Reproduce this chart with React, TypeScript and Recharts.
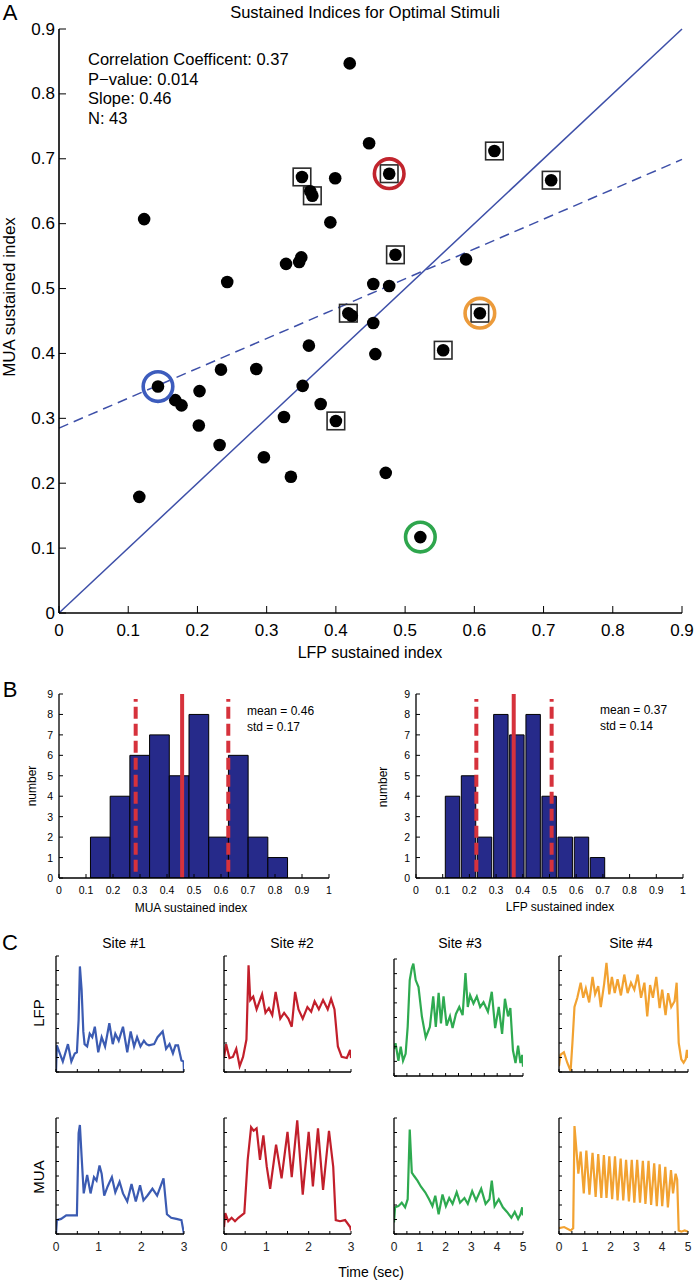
import React from "react";
import {
  ScatterChart,
  Scatter,
  XAxis,
  YAxis,
  ReferenceLine,
  BarChart,
  Bar,
  LineChart,
  Line,
} from "recharts";

const FONT = '"Liberation Sans", Arial, Helvetica, sans-serif';

// ---------- panel A: sustained index per site (LFP vs MUA)
const lfpIdx = [
  0.116, 0.123, 0.42, 0.351, 0.363, 0.366, 0.399, 0.392, 0.328, 0.347, 0.35,
  0.243, 0.448, 0.477, 0.629, 0.711, 0.486, 0.588, 0.454, 0.477, 0.418, 0.423,
  0.608, 0.454, 0.457, 0.555, 0.472, 0.522, 0.143, 0.168, 0.177, 0.203, 0.202,
  0.234, 0.232, 0.285, 0.296, 0.325, 0.335, 0.352, 0.361, 0.378, 0.4,
];
const muaIdx = [
  0.179, 0.607, 0.847, 0.672, 0.65, 0.643, 0.67, 0.602, 0.538, 0.541, 0.548,
  0.51, 0.724, 0.677, 0.712, 0.667, 0.552, 0.545, 0.507, 0.504, 0.462, 0.458,
  0.462, 0.447, 0.399, 0.405, 0.216, 0.117, 0.349, 0.328, 0.32, 0.342, 0.289,
  0.375, 0.259, 0.376, 0.24, 0.302, 0.21, 0.35, 0.412, 0.322, 0.296,
];
const boxedLfp = [0.351, 0.366, 0.477, 0.629, 0.711, 0.486, 0.418, 0.608, 0.555, 0.4];
const boxedMua = [0.672, 0.643, 0.677, 0.712, 0.667, 0.552, 0.462, 0.462, 0.405, 0.296];
const exampleLfp = [0.143, 0.477, 0.522, 0.608];
const exampleMua = [0.349, 0.677, 0.117, 0.462];
const exampleColors = ["#3d5cbd", "#c1242d", "#2ea64d", "#ec9b3b"];
const diagLine = [{ x: 0, y: 0 }, { x: 0.9, y: 0.9 }];
const fitLine = [{ x: 0, y: 0.285 }, { x: 0.9, y: 0.699 }];
const scatterTicks = [0, 0.1, 0.2, 0.3, 0.4, 0.5, 0.6, 0.7, 0.8, 0.9];
const statLines = [
  "Correlation Coefficent: 0.37",
  "P\u2212value: 0.014",
  "Slope: 0.46",
  "N: 43",
];

// ---------- panel B: histograms
const muaBinCenters = [0.153, 0.226, 0.299, 0.372, 0.445, 0.518, 0.591, 0.664, 0.737, 0.81];
const muaCounts = [2, 4, 6, 7, 5, 8, 2, 6, 2, 1];
const lfpBinCenters = [0.136, 0.196, 0.256, 0.317, 0.377, 0.438, 0.498, 0.558, 0.619, 0.679];
const lfpCounts = [4, 5, 2, 8, 7, 8, 4, 2, 2, 1];
const muaStats = { mean: 0.456, lo: 0.284, hi: 0.627 };
const lfpStats = { mean: 0.366, lo: 0.226, hi: 0.508 };
const histXTicks = [0, 0.1, 0.2, 0.3, 0.4, 0.5, 0.6, 0.7, 0.8, 0.9, 1];
const histYTicks = [0, 1, 2, 3, 4, 5, 6, 7, 8, 9];

// ---------- panel C: example responses, [time (s), normalised amplitude]
const site1Lfp = [
  [0, 0], [0.02, 0.23], [0.08, 0.17], [0.16, 0.09], [0.28, 0.24], [0.36, 0.09],
  [0.44, 0.16], [0.49, 0.17], [0.53, 0.45], [0.56, 0.91], [0.6, 0.71], [0.64, 0.35],
  [0.67, 0.24], [0.73, 0.22], [0.79, 0.33], [0.85, 0.3], [0.91, 0.39], [0.99, 0.17],
  [1.07, 0.3], [1.15, 0.22], [1.25, 0.42], [1.33, 0.24], [1.39, 0.33], [1.47, 0.27],
  [1.57, 0.39], [1.67, 0.17], [1.75, 0.35], [1.83, 0.22], [1.9, 0.3], [1.98, 0.22],
  [2.06, 0.27], [2.12, 0.24], [2.18, 0.23], [2.3, 0.24], [2.38, 0.3], [2.5, 0.35],
  [2.58, 0.2], [2.66, 0.24], [2.74, 0.16], [2.8, 0.23], [2.86, 0.23], [2.94, 0.1],
  [2.99, 0.09], [3, 0],
];
const site1Mua = [
  [0, 0], [0.02, 0.12], [0.12, 0.13], [0.24, 0.16], [0.36, 0.16], [0.49, 0.16],
  [0.53, 0.87], [0.56, 0.94], [0.6, 0.67], [0.65, 0.35], [0.73, 0.51], [0.81, 0.35],
  [0.89, 0.49], [0.95, 0.46], [1.02, 0.59], [1.07, 0.52], [1.13, 0.33], [1.21, 0.41],
  [1.31, 0.49], [1.39, 0.36], [1.49, 0.45], [1.57, 0.35], [1.67, 0.28], [1.77, 0.43],
  [1.87, 0.28], [1.97, 0.42], [2.05, 0.29], [2.14, 0.33], [2.26, 0.39], [2.37, 0.33],
  [2.52, 0.48], [2.6, 0.17], [2.7, 0.14], [2.82, 0.13], [2.94, 0.12], [3, 0],
];
const site2Lfp = [
  [0, 0.12], [0.05, 0.24], [0.13, 0.12], [0.21, 0.13], [0.29, 0.2], [0.37, 0.05],
  [0.45, 0.13], [0.53, 0.28], [0.58, 0.92], [0.62, 0.62], [0.69, 0.65], [0.77, 0.54],
  [0.9, 0.67], [0.98, 0.51], [1.06, 0.55], [1.14, 0.49], [1.22, 0.69], [1.33, 0.46],
  [1.42, 0.51], [1.52, 0.46], [1.6, 0.39], [1.68, 0.69], [1.76, 0.54], [1.86, 0.46],
  [1.97, 0.56], [2.06, 0.52], [2.14, 0.61], [2.24, 0.54], [2.34, 0.62], [2.45, 0.54],
  [2.53, 0.63], [2.61, 0.54], [2.69, 0.22], [2.78, 0.13], [2.9, 0.12], [2.98, 0.19],
  [3, 0.12],
];
const site2Mua = [
  [0, 0.06], [0.03, 0.18], [0.1, 0.11], [0.18, 0.14], [0.26, 0.11], [0.34, 0.14],
  [0.48, 0.18], [0.56, 0.64], [0.64, 0.92], [0.7, 0.89], [0.77, 0.91], [0.85, 0.64],
  [0.93, 0.85], [1.01, 0.58], [1.09, 0.39], [1.23, 0.77], [1.36, 0.48], [1.5, 0.88],
  [1.6, 0.49], [1.73, 0.98], [1.86, 0.34], [2.0, 0.88], [2.1, 0.41], [2.22, 0.91],
  [2.34, 0.38], [2.48, 0.89], [2.58, 0.58], [2.64, 0.12], [2.74, 0.11], [2.86, 0.12],
  [2.98, 0.06], [3, 0.03],
];
const site3Lfp = [
  [0, 0.23], [0.06, 0.28], [0.17, 0.13], [0.26, 0.25], [0.35, 0.13], [0.45, 0.19],
  [0.53, 0.42], [0.61, 0.82], [0.69, 0.92], [0.75, 0.96], [0.84, 0.82], [0.95, 0.76],
  [1.08, 0.51], [1.23, 0.33], [1.39, 0.42], [1.52, 0.68], [1.62, 0.42], [1.73, 0.71],
  [1.82, 0.45], [1.92, 0.68], [2.04, 0.43], [2.17, 0.51], [2.27, 0.41], [2.4, 0.53],
  [2.53, 0.59], [2.66, 0.52], [2.77, 0.88], [2.86, 0.59], [2.95, 0.69], [3.08, 0.62],
  [3.21, 0.68], [3.34, 0.59], [3.47, 0.63], [3.64, 0.55], [3.79, 0.72], [3.92, 0.41],
  [4.06, 0.59], [4.19, 0.36], [4.3, 0.66], [4.42, 0.51], [4.51, 0.58], [4.61, 0.22],
  [4.71, 0.11], [4.81, 0.26], [4.9, 0.11], [4.97, 0.18], [5, 0.08],
];
const site3Mua = [
  [0, 0.1], [0.04, 0.23], [0.17, 0.24], [0.3, 0.27], [0.43, 0.23], [0.53, 0.3],
  [0.61, 0.9], [0.69, 0.53], [0.78, 0.5], [0.91, 0.46], [1.04, 0.41], [1.21, 0.36],
  [1.36, 0.3], [1.49, 0.24], [1.6, 0.33], [1.73, 0.17], [1.88, 0.34], [2.01, 0.24],
  [2.14, 0.31], [2.27, 0.26], [2.43, 0.36], [2.56, 0.27], [2.73, 0.31], [2.86, 0.26],
  [3.03, 0.37], [3.18, 0.29], [3.38, 0.39], [3.55, 0.26], [3.7, 0.3], [3.79, 0.46],
  [3.9, 0.24], [4.06, 0.3], [4.22, 0.23], [4.38, 0.19], [4.55, 0.14], [4.68, 0.19],
  [4.81, 0.13], [4.9, 0.17], [4.97, 0.23], [5, 0.16],
];
const site4Lfp = [
  [0, 0.05], [0.06, 0.15], [0.19, 0.17], [0.32, 0.08], [0.45, 0.01], [0.52, 0.25],
  [0.6, 0.56], [0.71, 0.64], [0.84, 0.77], [0.94, 0.64], [1.04, 0.72], [1.17, 0.6],
  [1.3, 0.82], [1.4, 0.67], [1.52, 0.74], [1.62, 0.56], [1.75, 0.76], [1.84, 0.94],
  [1.95, 0.67], [2.05, 0.82], [2.16, 0.68], [2.27, 0.8], [2.4, 0.66], [2.53, 0.84],
  [2.66, 0.68], [2.79, 0.77], [2.92, 0.71], [3.05, 0.84], [3.18, 0.64], [3.31, 0.77],
  [3.42, 0.48], [3.53, 0.75], [3.64, 0.64], [3.77, 0.82], [3.9, 0.55], [4.0, 0.71],
  [4.13, 0.49], [4.23, 0.68], [4.35, 0.56], [4.48, 0.61], [4.56, 0.77], [4.64, 0.25],
  [4.74, 0.11], [4.83, 0.08], [4.91, 0.11], [4.96, 0.19], [5, 0.12],
];
const site4Mua = [
  [0, 0.05], [0.2, 0.06], [0.45, 0.03], [0.55, 0.05], [0.6, 0.93], [0.75, 0.52],
  [0.84, 0.71], [0.96, 0.35], [1.06, 0.72], [1.18, 0.34], [1.3, 0.7], [1.42, 0.32],
  [1.52, 0.69], [1.64, 0.31], [1.74, 0.68], [1.84, 0.31], [1.95, 0.67], [2.06, 0.3],
  [2.17, 0.67], [2.27, 0.29], [2.39, 0.65], [2.49, 0.29], [2.6, 0.64], [2.71, 0.28],
  [2.82, 0.64], [2.92, 0.27], [3.03, 0.64], [3.14, 0.27], [3.25, 0.63], [3.35, 0.26],
  [3.47, 0.63], [3.57, 0.25], [3.69, 0.61], [3.79, 0.24], [3.9, 0.6], [4.0, 0.24],
  [4.12, 0.58], [4.22, 0.23], [4.34, 0.55], [4.42, 0.35], [4.52, 0.52], [4.58, 0.47],
  [4.64, 0.03], [4.74, 0.02], [4.87, 0.03], [5, 0.02],
];
const siteTitles = ["Site #1", "Site #2", "Site #3", "Site #4"];
const siteColors = ["#3b5bb2", "#c21f2b", "#2eaa50", "#f2a231"];
const siteDurations = [3, 3, 5, 5];
const lfpTraces = [site1Lfp, site2Lfp, site3Lfp, site4Lfp];
const muaTraces = [site1Mua, site2Mua, site3Mua, site4Mua];
const ticks3s = [0, 0.5, 1, 1.5, 2, 2.5, 3];
const ticks5s = [0, 0.5, 1, 1.5, 2, 2.5, 3, 3.5, 4, 4.5, 5];
const traceYTicks = [0, 0.125, 0.25, 0.375, 0.5, 0.625, 0.75, 0.875, 1];

// every chart gets PAD px of room round its plot area; the axes take AX of it
const PAD = 40;
const AX = 30;
const M = { top: PAD, right: PAD, bottom: PAD - AX, left: PAD - AX };

function place(l: number, t: number, r: number, b: number) {
  return {
    style: { position: "absolute" as const, left: l - PAD, top: t - PAD },
    w: r - l + 2 * PAD,
    h: b - t + 2 * PAD,
  };
}

interface TickOpts {
  len: number;
  size: number;
  gap: number;
  color?: string;
  show?: (v: number) => boolean;
}

function xTick(o: TickOpts) {
  return (p: any) => {
    const v = p.payload.value;
    return (
      <g>
        <line x1={p.x} x2={p.x} y1={p.y} y2={p.y - o.len} stroke="#000" strokeWidth={1} />
        {(!o.show || o.show(v)) && (
          <text
            x={p.x}
            y={p.y + o.gap}
            textAnchor="middle"
            dominantBaseline="central"
            fontSize={o.size}
            fontFamily={FONT}
            fill={o.color ?? "#000"}
          >
            {String(v)}
          </text>
        )}
      </g>
    );
  };
}

function yTick(o: TickOpts) {
  return (p: any) => {
    const v = p.payload.value;
    return (
      <g>
        <line x1={p.x} x2={p.x + o.len} y1={p.y} y2={p.y} stroke="#000" strokeWidth={1} />
        {(!o.show || o.show(v)) && (
          <text
            x={p.x - o.gap}
            y={p.y}
            textAnchor="end"
            dominantBaseline="central"
            fontSize={o.size}
            fontFamily={FONT}
            fill={o.color ?? "#000"}
          >
            {String(v)}
          </text>
        )}
      </g>
    );
  };
}

function Txt({
  x,
  y,
  size,
  rot,
  start,
  children,
}: {
  x: number;
  y: number;
  size: number;
  rot?: boolean;
  start?: boolean;
  children: React.ReactNode;
}) {
  return (
    <div
      style={{
        position: "absolute",
        left: x,
        top: y,
        transform: `translate(${start ? "0" : "-50%"}, -50%)${rot ? " rotate(-90deg)" : ""}`,
        fontSize: size,
        lineHeight: 1,
        whiteSpace: "nowrap",
        fontFamily: FONT,
        color: "#000",
      }}
    >
      {children}
    </div>
  );
}

const dotShape = (p: any) => <circle cx={p.cx} cy={p.cy} r={6.3} fill="#000" />;
const boxShape = (p: any) => (
  <rect
    x={p.cx - 8.8}
    y={p.cy - 8.8}
    width={17.6}
    height={17.6}
    fill="none"
    stroke="#2b2b2b"
    strokeWidth={1.6}
  />
);
const ringShape = (p: any) => (
  <circle cx={p.cx} cy={p.cy} r={14.8} fill="none" stroke={p.payload.c} strokeWidth={3.6} />
);

const axisProps = {
  type: "number" as const,
  tickSize: 0,
  tickMargin: 0,
  tickLine: false,
  interval: 0 as const,
  allowDataOverflow: true,
};

function ScatterPanel() {
  const f = place(59, 29, 682, 613);
  const pts = lfpIdx.map((x, i) => ({ x, y: muaIdx[i] }));
  const boxes = boxedLfp.map((x, i) => ({ x, y: boxedMua[i] }));
  const rings = exampleLfp.map((x, i) => ({ x, y: exampleMua[i], c: exampleColors[i] }));
  return (
    <div style={f.style}>
      <ScatterChart width={f.w} height={f.h} margin={M}>
        <XAxis
          {...axisProps}
          dataKey="x"
          domain={[0, 0.9]}
          ticks={scatterTicks}
          height={AX}
          axisLine={{ stroke: "#000", strokeWidth: 1.6 }}
          tick={xTick({ len: 7, size: 17, gap: 17 })}
        />
        <YAxis
          {...axisProps}
          dataKey="y"
          domain={[0, 0.9]}
          ticks={scatterTicks}
          width={AX}
          axisLine={{ stroke: "#000", strokeWidth: 1.6 }}
          tick={yTick({ len: 7, size: 17, gap: 4 })}
        />
        <ReferenceLine segment={diagLine} stroke="#3d4fa8" strokeWidth={1.5} />
        <ReferenceLine
          segment={fitLine}
          stroke="#3d4fa8"
          strokeWidth={1.5}
          strokeDasharray="10 6"
        />
        <Scatter data={boxes} shape={boxShape} isAnimationActive={false} />
        <Scatter data={pts} shape={dotShape} isAnimationActive={false} />
        <Scatter data={rings} shape={ringShape} isAnimationActive={false} />
      </ScatterChart>
    </div>
  );
}

function Histogram({
  l,
  r,
  centers,
  counts,
  stats,
  barSize,
}: {
  l: number;
  r: number;
  centers: number[];
  counts: number[];
  stats: { mean: number; lo: number; hi: number };
  barSize: number;
}) {
  const f = place(l, 694, r, 878);
  const data = centers.map((x, i) => ({ x, n: counts[i] }));
  const red = "#d6323c";
  return (
    <div style={f.style}>
      <BarChart width={f.w} height={f.h} margin={M} data={data} barGap={0}>
        <XAxis
          {...axisProps}
          dataKey="x"
          domain={[0, 1]}
          ticks={histXTicks}
          height={AX}
          axisLine={{ stroke: "#000", strokeWidth: 1.3 }}
          tick={xTick({ len: 4, size: 10.5, gap: 12 })}
        />
        <YAxis
          {...axisProps}
          domain={[0, 9]}
          ticks={histYTicks}
          width={AX}
          axisLine={{ stroke: "#000", strokeWidth: 1.3 }}
          tick={yTick({ len: 4, size: 10.5, gap: 6 })}
        />
        <Bar
          dataKey="n"
          barSize={barSize}
          fill="#262a8a"
          stroke="#000"
          strokeWidth={1}
          isAnimationActive={false}
        />
        <ReferenceLine x={stats.mean} stroke={red} strokeWidth={4} />
        <ReferenceLine
          segment={[{ x: stats.lo, y: 0.3 }, { x: stats.lo, y: 8.75 }]}
          stroke={red}
          strokeWidth={4}
          strokeDasharray="12 5"
        />
        <ReferenceLine
          segment={[{ x: stats.hi, y: 0.3 }, { x: stats.hi, y: 8.75 }]}
          stroke={red}
          strokeWidth={4}
          strokeDasharray="12 5"
        />
      </BarChart>
    </div>
  );
}

function Trace({
  l,
  r,
  t,
  b,
  pts,
  dur,
  color,
  labels,
}: {
  l: number;
  r: number;
  t: number;
  b: number;
  pts: number[][];
  dur: number;
  color: string;
  labels: boolean;
}) {
  const f = place(l, t, r, b);
  const data = pts.map(([x, v]) => ({ x, v }));
  return (
    <div style={f.style}>
      <LineChart width={f.w} height={f.h} margin={M} data={data}>
        <XAxis
          {...axisProps}
          dataKey="x"
          domain={[0, dur]}
          ticks={dur === 3 ? ticks3s : ticks5s}
          height={AX}
          axisLine={{ stroke: "#000", strokeWidth: 1.3 }}
          tick={xTick({
            len: 3,
            size: 12,
            gap: 13,
            color: "#222",
            show: (v) => labels && Number.isInteger(v),
          })}
        />
        <YAxis
          {...axisProps}
          domain={[0, 1]}
          ticks={traceYTicks}
          width={AX}
          axisLine={{ stroke: "#000", strokeWidth: 1.3 }}
          tick={yTick({ len: 3, size: 10, gap: 4, show: () => false })}
        />
        <Line
          type="linear"
          dataKey="v"
          stroke={color}
          strokeWidth={2.2}
          dot={false}
          isAnimationActive={false}
        />
      </LineChart>
    </div>
  );
}

const colX = [
  [56, 184],
  [224, 351],
  [394, 523],
  [559, 688],
];
const titleX = [124, 292, 460, 631];

export default function App() {
  return (
    <div
      style={{
        position: "absolute",
        left: 0,
        top: 0,
        width: 696,
        height: 1280,
        background: "#fff",
        fontFamily: FONT,
        overflow: "hidden",
      }}
    >
      {/* panel A */}
      <Txt x={10} y={13} size={22}>A</Txt>
      <Txt x={365} y={12} size={16.5}>Sustained Indices for Optimal Stimuli</Txt>
      {statLines.map((s, i) => (
        <Txt key={s} x={88} y={59 + i * 19.7} size={16.5} start>
          {s}
        </Txt>
      ))}
      <Txt x={9} y={297} size={17} rot>MUA sustained index</Txt>
      <Txt x={370} y={653} size={16}>LFP sustained index</Txt>
      <ScatterPanel />

      {/* panel B */}
      <Txt x={10} y={690} size={22}>B</Txt>
      <Histogram
        l={59}
        r={329}
        centers={muaBinCenters}
        counts={muaCounts}
        stats={muaStats}
        barSize={19.7}
      />
      <Histogram
        l={416}
        r={683}
        centers={lfpBinCenters}
        counts={lfpCounts}
        stats={lfpStats}
        barSize={16.1}
      />
      <Txt x={32} y={786} size={12} rot>number</Txt>
      <Txt x={383} y={787} size={12} rot>number</Txt>
      <Txt x={191} y={908} size={12}>MUA sustained index</Txt>
      <Txt x={560} y={907} size={12}>LFP sustained index</Txt>
      <Txt x={247} y={711} size={12} start>mean = 0.46</Txt>
      <Txt x={247} y={727} size={12} start>std = 0.17</Txt>
      <Txt x={600} y={710} size={12} start>mean = 0.37</Txt>
      <Txt x={600} y={726} size={12} start>std = 0.14</Txt>

      {/* panel C */}
      <Txt x={10} y={943} size={22}>C</Txt>
      {siteTitles.map((s, i) => (
        <Txt key={s} x={titleX[i]} y={943} size={14}>
          {s}
        </Txt>
      ))}
      <Txt x={38} y={1013} size={15} rot>LFP</Txt>
      <Txt x={38} y={1177} size={15} rot>MUA</Txt>
      {colX.map(([l, r], i) => (
        <Trace
          key={"lfp" + i}
          l={l}
          r={r}
          t={i === 2 ? 959 : 956}
          b={i === 2 ? 1076 : 1072}
          pts={lfpTraces[i]}
          dur={siteDurations[i]}
          color={siteColors[i]}
          labels={false}
        />
      ))}
      {colX.map(([l, r], i) => (
        <Trace
          key={"mua" + i}
          l={l}
          r={r}
          t={1118}
          b={1234}
          pts={muaTraces[i]}
          dur={siteDurations[i]}
          color={siteColors[i]}
          labels
        />
      ))}
      <Txt x={371} y={1272} size={14}>Time (sec)</Txt>
    </div>
  );
}
